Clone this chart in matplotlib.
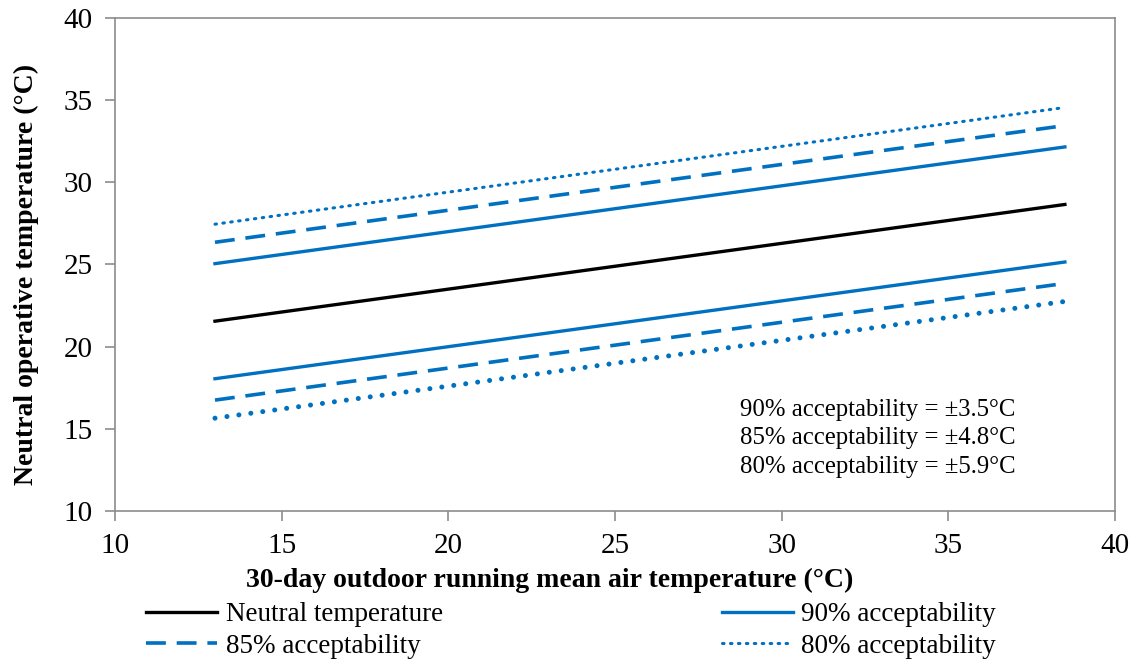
import matplotlib.pyplot as plt

plt.rcParams['font.family'] = ['Liberation Serif', 'DejaVu Serif']

# running mean outdoor temperature range and neutral operative temperature
t_out = [13, 38.5]
t_neutral = [21.55, 28.65]

# acceptability band half-widths (degC)
band_90 = 3.5
band_85 = 4.8
band_80 = 5.9

blue = '#0070C0'
grey = '#8c8c8c'

fig = plt.figure(figsize=(11.33, 6.62), dpi=100)
ax = fig.add_axes([0.1015, 0.228, 0.8825, 0.745])

ax.plot(t_out, t_neutral, color='black', lw=2.4, label='Neutral temperature')

up90 = [t + band_90 for t in t_neutral]
lo90 = [t - band_90 for t in t_neutral]
up85 = [t + band_85 for t in t_neutral]
lo85 = [t - band_85 for t in t_neutral]
up80 = [t + band_80 for t in t_neutral]
lo80 = [t - band_80 for t in t_neutral]

ax.plot(t_out, up90, color=blue, lw=2.4, label='90% acceptability')
ax.plot(t_out, lo90, color=blue, lw=2.4)
ax.plot(t_out, up85, color=blue, lw=2.6, ls=(0, (5.5, 3)), label='85% acceptability')
ax.plot(t_out, lo85, color=blue, lw=2.6, ls=(0, (5.5, 3)))
ax.plot(t_out, up80, color=blue, lw=2.2, ls=(0, (0.5, 2.1)), dash_capstyle='round',
        label='80% acceptability')
ax.plot(t_out, lo80, color=blue, lw=3.6, ls=(0, (0.01, 2.4)), dash_capstyle='round')

ax.set_xlim(10, 40)
ax.set_ylim(10, 40)
ax.set_xticks(range(10, 41, 5))
ax.set_yticks(range(10, 41, 5))
ax.tick_params(direction='out', length=7, width=1.2, color=grey, labelsize=21, pad=9)
for s in ax.spines.values():
    s.set_color(grey)
    s.set_linewidth(1.2)

ax.set_xlabel('30-day outdoor running mean air temperature (°C)', fontsize=20,
              fontweight='bold')
ax.xaxis.set_label_coords(0.435, -0.115)
ax.set_ylabel('Neutral operative temperature (°C)', fontsize=20,
              fontweight='bold')
ax.yaxis.set_label_coords(-0.076, 0.48)

ax.text(28.75, 16.15, '90% acceptability = ±3.5°C', fontsize=17.8, va='center')
ax.text(28.75, 14.45, '85% acceptability = ±4.8°C', fontsize=17.8, va='center')
ax.text(28.75, 12.7, '80% acceptability = ±5.9°C', fontsize=17.8, va='center')

h, l = ax.get_legend_handles_labels()
order = [0, 2, 1, 3]
fig.legend([h[i] for i in order], [l[i] for i in order], ncol=2,
           loc='lower left', bbox_to_anchor=(0.107, -0.032), frameon=False,
           fontsize=19.5, handlelength=2.65, handletextpad=0.3, columnspacing=10.3,
           labelspacing=0.25)

fig.savefig('out.png', dpi=100)
